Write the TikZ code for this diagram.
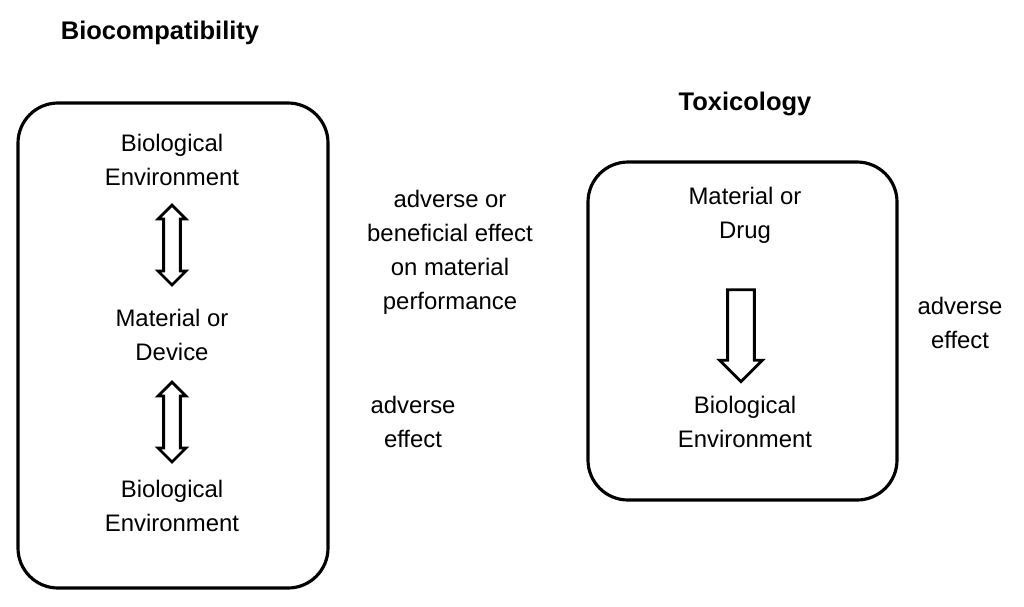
\documentclass[tikz,border=0pt]{standalone}
\usepackage{fontspec}
\setmainfont{Liberation Sans}
\usetikzlibrary{shapes.arrows}
\begin{document}
\begin{tikzpicture}[x=0.02cm,y=-0.02cm,
 box/.style={draw,line width=1.8pt,rounded corners=0.8cm},
 txt/.style={align=center,font=\fontsize{13.6}{19.3}\selectfont},
 ttl/.style={font=\bfseries\fontsize{14.5}{18}\selectfont},
 harrow/.style={draw,line width=1.6pt,fill=white,inner sep=0.12cm,minimum width=0.56cm}]
\useasboundingbox (0,0) rectangle (1024,606);
\node[ttl] (t1) at (160,33) {Biocompatibility};
\node[ttl] (t2) at (745,104) {Toxicology};
\draw[box] (18,103) rectangle (328,588);
\draw[box] (588,162) rectangle (897,500);
\node[txt] (b1) at (172,160) {Biological\\Environment};
\node[txt] (m1) at (172,335) {Material or\\Device};
\node[txt] (b2) at (172,506) {Biological\\Environment};
\node[harrow,double arrow,double arrow head extend=0.1cm,shape border rotate=90,minimum height=1.6cm] (a1) at (172,245) {};
\node[harrow,double arrow,double arrow head extend=0.1cm,shape border rotate=90,minimum height=1.6cm] (a2) at (172,422) {};
\node[txt] (s1) at (450,252) {adverse or\\beneficial effect\\on material\\performance};
\node[txt] (s2) at (413,422) {adverse\\effect};
\node[txt] (m2) at (745,215) {Material or\\Drug};
\node[txt] (b3) at (745,422) {Biological\\Environment};
\node[harrow,single arrow,single arrow head extend=0.12cm,shape border rotate=270,minimum height=1.84cm,inner sep=0.17cm,minimum width=0.86cm] (a3) at (741,329) {};
\node[txt] (s3) at (960,323) {adverse\\effect};
\end{tikzpicture}
\end{document}
